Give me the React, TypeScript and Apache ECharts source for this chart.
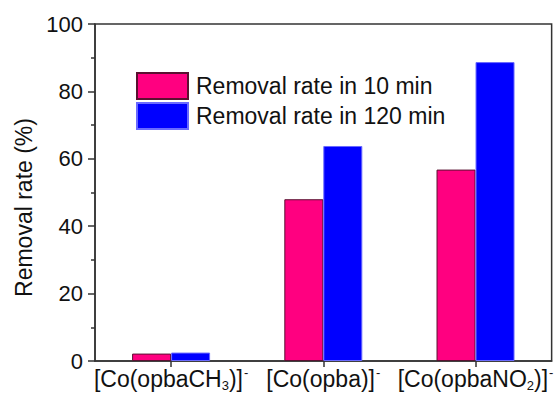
import React, { useEffect, useRef } from "react";
import * as echarts from "echarts";

const categories = ["[Co(opbaCH3)]-", "[Co(opba)]-", "[Co(opbaNO2)]-"];
const catRich = [
  "{a|[Co(opbaCH}{sub|3}{a|)]}{sup|-}",
  "{a|[Co(opba)]}{sup|-}",
  "{a|[Co(opbaNO}{sub|2}{a|)]}{sup|-}",
];
const rate10 = [2.2, 48.0, 56.8];
const rate120 = [2.5, 63.8, 88.7];
const seriesNames = ["Removal rate in 10 min", "Removal rate in 120 min"];

const FONT = "'Liberation Sans', Arial, sans-serif";

export default function App() {
  const ref = useRef<HTMLDivElement>(null);
  useEffect(() => {
    if (!ref.current) return;
    const chart = echarts.init(ref.current, null, { renderer: "svg" });
    chart.setOption({
      animation: false,
      textStyle: { fontFamily: FONT },
      grid: { left: 95, right: 2, top: 24, bottom: 37, show: true, borderColor: "#333", borderWidth: 1.5 },
      legend: {
        orient: "vertical",
        left: 136,
        top: 72,
        padding: 0,
        itemWidth: 51,
        itemHeight: 26,
        itemGap: 2,
        icon: "rect",
        textStyle: { fontSize: 23, color: "#111", fontFamily: FONT, padding: [0, 0, 0, 3] },
        data: seriesNames,
      },
      xAxis: {
        type: "category",
        data: categories,
        axisLine: { lineStyle: { color: "#333", width: 1.5 } },
        axisTick: { show: true, alignWithLabel: true, length: 6, lineStyle: { color: "#333", width: 1.5 } },
        axisLabel: {
          margin: 5,
          interval: 0,
          formatter: (_v: string, i: number) => catRich[i],
          rich: {
            a: { fontSize: 23, color: "#111", fontFamily: FONT, lineHeight: 26 },
            sub: { fontSize: 13, color: "#111", fontFamily: FONT, verticalAlign: "bottom", lineHeight: 13 },
            sup: { fontSize: 13, color: "#111", fontFamily: FONT, verticalAlign: "top", lineHeight: 13, padding: [0, 0, 0, 1] },
          },
        },
      },
      yAxis: {
        type: "value",
        min: 0,
        max: 100,
        interval: 20,
        name: "Removal rate (%)",
        nameLocation: "middle",
        nameGap: 60,
        nameTextStyle: { fontSize: 23, color: "#111", fontFamily: FONT, padding: [0, 30, 0, 0] },
        splitLine: { show: false },
        axisLine: { show: true, lineStyle: { color: "#333", width: 1.5 } },
        axisTick: { show: true, length: 7, lineStyle: { color: "#333", width: 1.5 } },
        minorTick: { show: true, splitNumber: 2, length: 4, lineStyle: { color: "#333", width: 1.5 } },
        axisLabel: { fontSize: 22, color: "#111", fontFamily: FONT, margin: 12 },
      },
      series: [
        {
          name: seriesNames[0],
          type: "bar",
          data: rate10,
          barWidth: 39,
          barGap: "0%",
          itemStyle: { color: "#FF0080", borderColor: "#5a1030", borderWidth: 1 },
        },
        {
          name: seriesNames[1],
          type: "bar",
          data: rate120,
          barWidth: 39,
          barGap: "0%",
          itemStyle: { color: "#0000FF", borderColor: "#6a6aff", borderWidth: 1 },
        },
      ],
    });
    return () => chart.dispose();
  }, []);
  return <div ref={ref} style={{ width: 556, height: 398, position: "absolute", left: 0, top: 0 }} />;
}
